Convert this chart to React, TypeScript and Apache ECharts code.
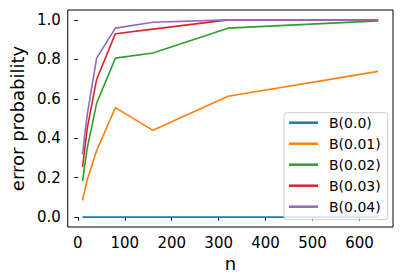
import React, { useEffect, useRef } from "react";
import * as echarts from "echarts";

const nValues = [10, 20, 40, 80, 160, 320, 640];
const seriesNames = ["B(0.0)", "B(0.01)", "B(0.02)", "B(0.03)", "B(0.04)"];
const b000 = [0, 0, 0, 0, 0, 0, 0];
const b001 = [0.085, 0.19, 0.337, 0.555, 0.44, 0.613, 0.739];
const b002 = [0.183, 0.35, 0.577, 0.806, 0.832, 0.958, 0.995];
const b003 = [0.254, 0.45, 0.698, 0.93, 0.953, 1.0, 1.0];
const b004 = [0.318, 0.52, 0.806, 0.958, 0.988, 1.0, 1.0];
const xTicks = [0, 100, 200, 300, 400, 500, 600];
const yTicks = [0, 0.2, 0.4, 0.6, 0.8, 1.0];
const colors = ["#1f77b4", "#ff7f0e", "#2ca02c", "#d62728", "#9467bd"];

const allSeries = [b000, b001, b002, b003, b004];

export default function App() {
  const ref = useRef<HTMLDivElement>(null);
  useEffect(() => {
    document.body.style.margin = "0";
    const chart = echarts.init(ref.current!, null, { renderer: "svg" });
    const font = "DejaVu Sans";
    chart.setOption({
      animation: false,
      textStyle: { fontFamily: font },
      grid: {
        left: 57.6,
        right: 10,
        top: 10,
        bottom: 51,
        show: true,
        borderColor: "#000",
        borderWidth: 1,
        backgroundColor: "transparent",
      },
      xAxis: {
        type: "value",
        min: -21.5,
        max: 671.5,
        name: "n",
        nameLocation: "middle",
        nameGap: 22,
        nameTextStyle: { fontSize: 18, color: "#000", fontFamily: font },
        axisLine: { show: false },
        splitLine: { show: false },
        axisTick: { show: true, length: 3.5, inside: false, lineStyle: { color: "#000" }, customValues: xTicks },
        axisLabel: { customValues: xTicks, fontSize: 15, color: "#000", margin: 8, fontFamily: font },
      },
      yAxis: {
        type: "value",
        min: -0.05,
        max: 1.05,
        name: "error probability",
        nameLocation: "middle",
        nameGap: 37,
        nameRotate: 90,
        nameTextStyle: { fontSize: 18, color: "#000", fontFamily: font },
        axisLine: { show: false },
        splitLine: { show: false },
        axisTick: { show: true, length: 3.5, inside: false, lineStyle: { color: "#000" }, customValues: yTicks },
        axisLabel: {
          customValues: yTicks,
          fontSize: 15,
          color: "#000",
          margin: 7,
          fontFamily: font,
          formatter: (v: number) => v.toFixed(1),
        },
      },
      legend: {
        orient: "vertical",
        left: 284,
        top: 112.7,
        padding: [3, 7, 6, 5],
        itemGap: 7,
        itemWidth: 29,
        itemHeight: 2.5,
        icon: "rect",
        backgroundColor: "rgba(255,255,255,0.8)",
        borderColor: "#cccccc",
        borderWidth: 1,
        borderRadius: 3,
        textStyle: { fontSize: 14, color: "#000", fontFamily: font, padding: [0, 0, 0, 6] },
        data: seriesNames,
      },
      series: allSeries.map((vals, i) => ({
        name: seriesNames[i],
        type: "line",
        data: nValues.map((n, j) => [n, vals[j]]),
        showSymbol: false,
        symbol: "none",
        color: colors[i],
        lineStyle: { width: 1.6, color: colors[i] },
        z: 2 + i,
      })),
    });
    return () => chart.dispose();
  }, []);
  return <div ref={ref} style={{ width: 403, height: 278 }} />;
}
